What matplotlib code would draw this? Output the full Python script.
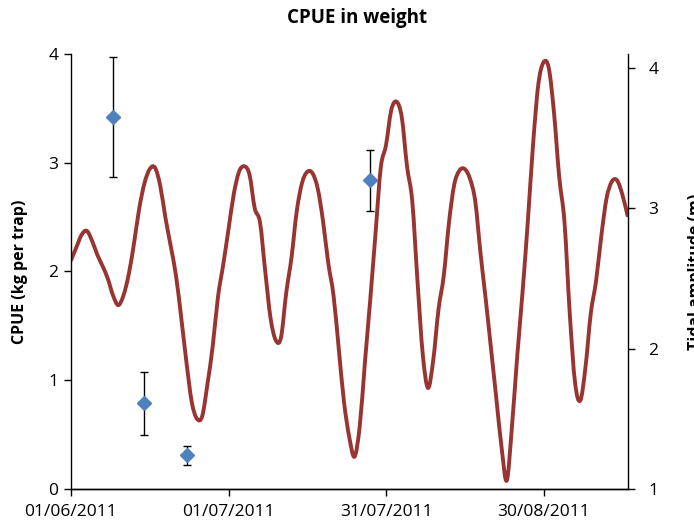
import numpy as np
import pandas as pd
import matplotlib
matplotlib.use('Agg')
import matplotlib.pyplot as plt
import matplotlib.dates as mdates
from matplotlib.path import Path
from matplotlib.patches import PathPatch

# ── data ──
tide_start = "2011-06-01"
tide_amp = [
    2.63, 2.72, 2.81, 2.84, 2.77, 2.67, 2.59, 2.50, 2.38, 2.31,
    2.38, 2.53, 2.75, 3.00, 3.18, 3.28, 3.29, 3.16, 2.93, 2.73,
    2.52, 2.22, 1.90, 1.62, 1.50, 1.52, 1.75, 2.02, 2.37, 2.60,
    2.85, 3.10, 3.26, 3.30, 3.24, 3.00, 2.90, 2.55, 2.22, 2.06,
    2.08, 2.40, 2.65, 2.98, 3.18, 3.26, 3.25, 3.14, 2.91, 2.61,
    2.38, 2.00, 1.62, 1.37, 1.23, 1.45, 1.91, 2.35, 2.82, 3.29,
    3.45, 3.70, 3.76, 3.65, 3.30, 3.05, 2.48, 1.96, 1.72, 1.92,
    2.28, 2.52, 2.90, 3.17, 3.27, 3.28, 3.21, 3.05, 2.68, 2.35,
    2.00, 1.65, 1.30, 1.06, 1.45, 1.95, 2.40, 2.90, 3.45, 3.88,
    4.04, 4.00, 3.68, 3.22, 2.90, 2.25, 1.76, 1.63, 1.87, 2.25,
    2.48, 2.80, 3.07, 3.19, 3.20, 3.10, 2.95,
]
cpue_dates = ["2011-06-09", "2011-06-15", "2011-06-23", "2011-07-28"]
cpue = [3.42, 0.79, 0.31, 2.84]
cpue_err = [0.55, 0.29, 0.09, 0.28]
xtick_dates = ["2011-06-01", "2011-07-01", "2011-07-31", "2011-08-30"]

tide_dates = pd.date_range(tide_start, periods=len(tide_amp), freq="D")


def smooth_path(xs, ys):
    # Excel-style smoothed line: cubic Bezier through every point
    pts = np.column_stack([xs, ys])
    n = len(pts)
    verts = [pts[0]]
    codes = [Path.MOVETO]
    for i in range(n - 1):
        p0 = pts[max(i - 1, 0)]
        p1 = pts[i]
        p2 = pts[i + 1]
        p3 = pts[min(i + 2, n - 1)]
        verts += [p1 + (p2 - p0) / 6, p2 - (p3 - p1) / 6, p2]
        codes += [Path.CURVE4] * 3
    return Path(verts, codes)


plt.rcParams['font.family'] = ['Open Sans', 'DejaVu Sans']

fig = plt.figure(figsize=(6.94, 5.29), dpi=100)
ax = fig.add_axes([0.1023, 0.0756, 0.8019, 0.8224])
ax2 = ax.twinx()

# tidal amplitude on right axis
path = smooth_path(mdates.date2num(tide_dates), np.array(tide_amp))
ax2.add_patch(PathPatch(path, facecolor='none', edgecolor='#983532',
                        linewidth=2.8, joinstyle='round', capstyle='round',
                        zorder=2))
ax2.set_ylim(1, 4.1)
ax2.set_yticks([1, 2, 3, 4])

# CPUE on left axis, drawn above the line
ax.set_zorder(ax2.get_zorder() + 1)
ax.patch.set_visible(False)
ax.errorbar(pd.to_datetime(cpue_dates), cpue, yerr=cpue_err, fmt='D',
            color='#4F81BD', markersize=7, ecolor='black', elinewidth=1,
            capsize=3, capthick=1, zorder=3)
ax.set_ylim(0, 4)
ax.set_yticks([0, 1, 2, 3, 4])

ax.set_xlim(pd.Timestamp("2011-06-01"), pd.Timestamp("2011-09-15"))
ax.set_xticks(pd.to_datetime(xtick_dates))
ax.xaxis.set_major_formatter(mdates.DateFormatter('%d/%m/%Y'))

for a in (ax, ax2):
    a.spines['top'].set_visible(False)
    for s in a.spines.values():
        s.set_linewidth(1.0)
    a.tick_params(direction='out', length=5, width=1, labelsize=12.5, pad=4)

ax.spines['right'].set_visible(False)
ax2.spines['left'].set_visible(False)
ax.tick_params(axis='x', pad=6)
ax2.tick_params(axis='y', pad=10)

ax.set_ylabel('CPUE (kg per trap)', fontsize=11.5, fontweight='bold')
ax.yaxis.set_label_coords(-0.078, 0.5)
ax2.set_ylabel('Tidal amplitude (m)', fontsize=11.5, fontweight='bold')
ax2.yaxis.set_label_coords(1.108, 0.5)

fig.text(0.515, 0.966, 'CPUE in weight', ha='center', va='center',
         fontsize=13.5, fontweight='bold')

fig.savefig('out.png', dpi=100)
